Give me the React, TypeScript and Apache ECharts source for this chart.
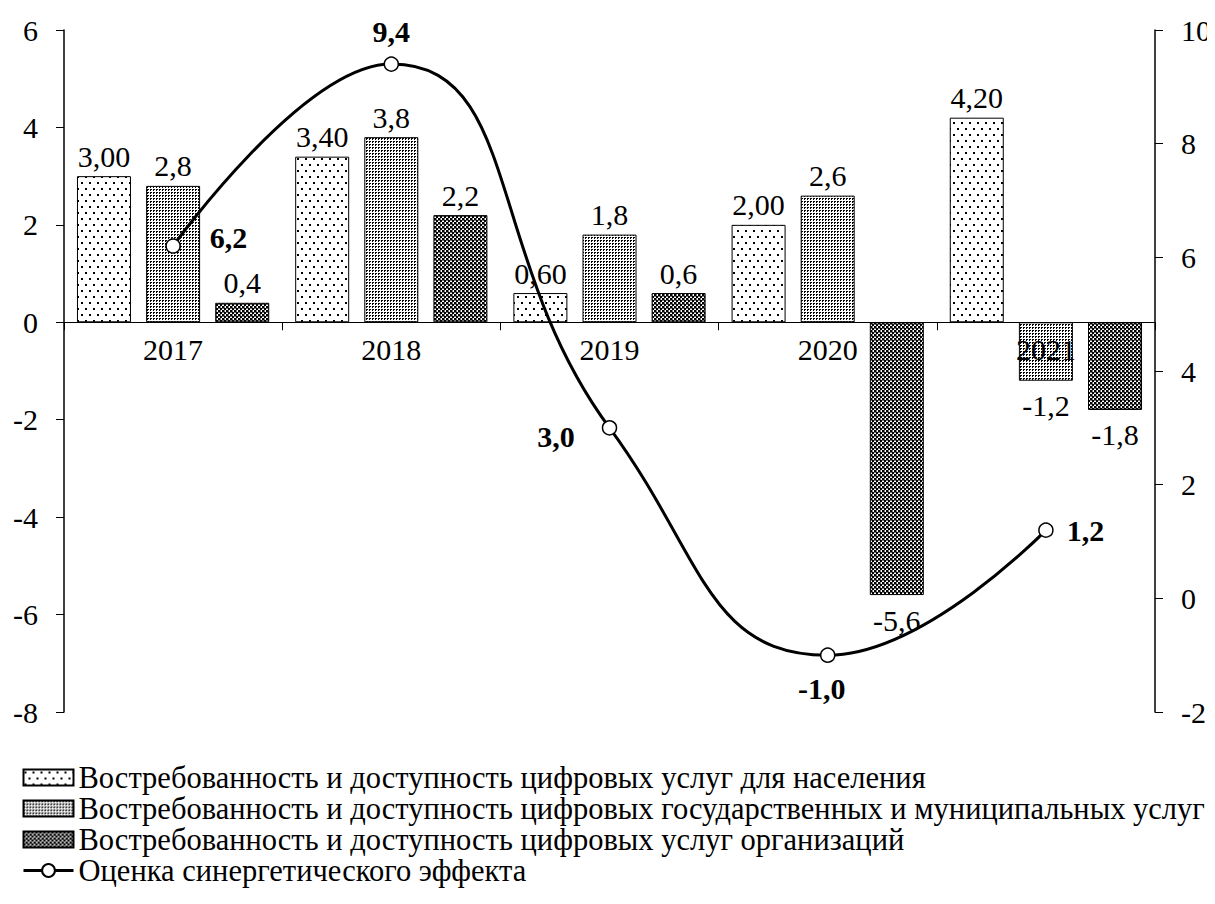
import React, { useEffect, useRef } from "react";
import * as echarts from "echarts";

const categories = ["2017", "2018", "2019", "2020", "2021"];
const seriesNames = [
  "Востребованность и доступность цифровых услуг для населения",
  "Востребованность и доступность цифровых государственных и муниципальных услуг",
  "Востребованность и доступность цифровых услуг организаций",
  "Оценка синергетического эффекта",
];
const population = [3.0, 3.4, 0.6, 2.0, 4.2];
const government = [2.8, 3.8, 1.8, 2.6, -1.2];
const organizations = [0.4, 2.2, 0.6, -5.6, -1.8];
const synergy = [6.2, 9.4, 3.0, -1.0, 1.2];
const leftTicks = { min: -8, max: 6, interval: 2 };
const rightTicks = { min: -2, max: 10, interval: 2 };

const FONT = '"Times New Roman", "Liberation Serif", serif';
const W = 1215;
const H = 904;
const GRID = { left: 64, right: 60, top: 30, bottom: 192 };

function makePattern(w: number, h: number, draw: (ctx: CanvasRenderingContext2D) => void) {
  const c = document.createElement("canvas");
  c.width = w;
  c.height = h;
  const ctx = c.getContext("2d")!;
  ctx.fillStyle = "#fff";
  ctx.fillRect(0, 0, w, h);
  ctx.fillStyle = "#000";
  draw(ctx);
  return { image: c.toDataURL(), repeat: "repeat" as const };
}

const fmt = (v: number, d: number) => v.toFixed(d).replace(".", ",");

export default function App() {
  const ref = useRef<HTMLDivElement>(null);
  useEffect(() => {
    if (!ref.current) return;
    const chart = echarts.init(ref.current, undefined, { renderer: "svg" });

    const p1 = makePattern(8, 12, (ctx) => {
      ctx.fillRect(1, 2, 2, 2);
      ctx.fillRect(5, 8, 2, 2);
    });
    const p2 = makePattern(3, 3, (ctx) => {
      ctx.fillRect(0, 0, 2, 1);
      ctx.fillRect(0, 1, 1, 1);
    });
    const p3 = makePattern(4, 4, (ctx) => {
      ctx.fillRect(0, 0, 2, 2);
      ctx.fillRect(2, 2, 2, 2);
      ctx.fillStyle = "#777";
      ctx.fillRect(2, 0, 2, 1);
      ctx.fillRect(0, 2, 1, 2);
    });
    const patterns = [p1, p2, p3];

    const barLabel = (d: number) => ({
      show: true,
      fontFamily: FONT,
      fontSize: 30,
      color: "#000",
      distance: 5,
      formatter: (p: any) => fmt(p.value, d),
    });

    const barData = (arr: number[]) =>
      arr.map((v) =>
        v < 0
          ? { value: v, label: { position: "bottom", distance: 10 } }
          : { value: v, label: { position: "top" } }
      );

    const bars = [population, government, organizations].map((arr, i) => ({
      name: seriesNames[i],
      type: "bar",
      yAxisIndex: 0,
      barWidth: 54,
      barGap: "28%",
      itemStyle: { color: patterns[i], borderColor: "#000", borderWidth: 1 },
      label: barLabel(i === 0 ? 2 : 1),
      data: barData(arr),
      z: 2,
    }));

    const linePos: any[] = [
      { position: "right", offset: [24, -8] },
      { position: "top", offset: [0, -5] },
      { position: "left", offset: [-22, 9] },
      { position: "bottom", offset: [-6, 6] },
      { position: "right", offset: [8, 0] },
    ];

    // place the category axis on the left axis' zero
    const gridH = H - GRID.top - GRID.bottom;
    const zeroFromBottom = ((0 - leftTicks.min) / (leftTicks.max - leftTicks.min)) * gridH;

    const option: any = {
      animation: false,
      grid: { ...GRID, containLabel: false },
      legend: {
        orient: "vertical",
        left: 17,
        top: 757,
        itemWidth: 50,
        itemHeight: 16,
        itemGap: 0,
        textStyle: { fontFamily: FONT, fontSize: 30.5, lineHeight: 30.5, color: "#000" },
        data: [
          { name: seriesNames[0], icon: "rect" },
          { name: seriesNames[1], icon: "rect" },
          { name: seriesNames[2], icon: "rect" },
          { name: seriesNames[3], lineStyle: { width: 3, color: "#000" } },
        ],
      },
      xAxis: {
        type: "category",
        data: categories,
        z: 5,
        position: "bottom",
        offset: -zeroFromBottom,
        axisLine: { show: true, onZero: false, lineStyle: { color: "#000", width: 1 } },
        axisTick: { show: true, length: 8, lineStyle: { color: "#000" } },
        axisLabel: { fontFamily: FONT, fontSize: 30, color: "#000", margin: 12 },
      },
      yAxis: [
        {
          type: "value",
          ...leftTicks,
          axisLine: { show: true, onZero: false, lineStyle: { color: "#000", width: 1.5 } },
          axisTick: { show: true, length: 8, lineStyle: { color: "#000" } },
          splitLine: { show: false },
          axisLabel: { fontFamily: FONT, fontSize: 30, color: "#000", margin: 26 },
        },
        {
          type: "value",
          ...rightTicks,
          position: "right",
          axisLine: { show: true, onZero: false, lineStyle: { color: "#000", width: 1.5 } },
          axisTick: { show: true, length: 8, lineStyle: { color: "#000" } },
          splitLine: { show: false },
          axisLabel: { fontFamily: FONT, fontSize: 30, color: "#000", margin: 26 },
        },
      ],
      series: [
        ...bars,
        {
          name: seriesNames[3],
          type: "line",
          yAxisIndex: 1,
          smooth: 0.5,
          symbol: "circle",
          symbolSize: 14,
          lineStyle: { color: "#000", width: 3 },
          itemStyle: { color: "#fff", borderColor: "#000", borderWidth: 1.5 },
          label: {
            show: true,
            fontFamily: FONT,
            fontSize: 30,
            fontWeight: "bold",
            color: "#000",
            formatter: (p: any) => fmt(p.value, 1),
          },
          data: synergy.map((v, i) => ({ value: v, label: linePos[i] })),
          z: 4,
        },
      ],
    };
    chart.setOption(option);
    return () => chart.dispose();
  }, []);
  return <div ref={ref} style={{ width: W, height: H, margin: -8 }} />;
}
